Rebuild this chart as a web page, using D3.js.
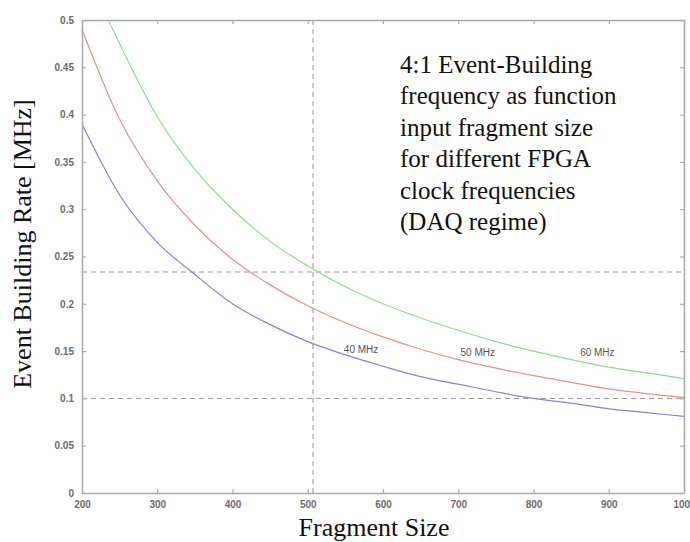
<!DOCTYPE html>
<html>
<head>
<meta charset="utf-8">
<script src="https://cdn.jsdelivr.net/npm/d3@7"></script>
<style>
html,body{margin:0;padding:0;background:#fff;}
svg{display:block;}
</style>
</head>
<body>
<svg id="chart" width="690" height="542"></svg>
<script>
// ---- data ----
const xTicks = [200, 300, 400, 500, 600, 700, 800, 900, 1000];
const yTicks = [0, 0.05, 0.1, 0.15, 0.2, 0.25, 0.3, 0.35, 0.4, 0.45, 0.5];
const yTickLabels = ["0", "0.05", "0.1", "0.15", "0.2", "0.25", "0.3", "0.35", "0.4", "0.45", "0.5"];

const sizes40 = [200, 250, 300, 350, 400, 450, 500, 550, 600, 650, 700, 750, 800, 850, 900, 950, 1000];
const rate40  = [0.39, 0.315, 0.265, 0.231, 0.2, 0.178, 0.16, 0.146, 0.134, 0.123, 0.115, 0.107, 0.1, 0.095, 0.089, 0.085, 0.081];

const sizes50 = [200, 250, 300, 350, 400, 450, 500, 550, 600, 650, 700, 750, 800, 850, 900, 950, 1000];
const rate50  = [0.49, 0.395, 0.33, 0.283, 0.247, 0.22, 0.198, 0.18, 0.165, 0.152, 0.141, 0.132, 0.124, 0.117, 0.11, 0.105, 0.101];

const sizes60 = [235, 250, 300, 350, 400, 450, 500, 550, 600, 650, 700, 750, 800, 850, 900, 950, 1000];
const rate60  = [0.5, 0.475, 0.398, 0.342, 0.3, 0.266, 0.24, 0.218, 0.2, 0.185, 0.172, 0.16, 0.15, 0.141, 0.133, 0.127, 0.121];

const seriesNames = ["40 MHz", "50 MHz", "60 MHz"];
const seriesColors = ["#8282da", "#ea8c8c", "#88de8c"];
const labelPos = [[548, 0.148], [703, 0.145], [862, 0.145]];

const refRate = [0.1, 0.2336];
const refSize = [507];

const titleLines = ["4:1 Event-Building", "frequency as function", "input fragment size", "for different FPGA", "clock frequencies", "(DAQ regime)"];
const xTitle = "Fragment Size";
const yTitle = "Event Building Rate [MHz]";

// ---- drawing ----
const svg = d3.select("#chart");
const L = 82, R = 684, T = 20, B = 493;
const x = d3.scaleLinear().domain([200, 1000]).range([L, R]);
const y = d3.scaleLinear().domain([0, 0.5]).range([B, T]);

svg.append("rect").attr("width", 690).attr("height", 542).attr("fill", "#fff");

// reference dashed lines
const dashColor = "#909090";
refRate.forEach(v => {
  svg.append("line").attr("x1", L).attr("x2", R).attr("y1", y(v)).attr("y2", y(v))
    .attr("stroke", dashColor).attr("stroke-width", 1).attr("stroke-dasharray", "5,4");
});
refSize.forEach(v => {
  svg.append("line").attr("x1", x(v)).attr("x2", x(v)).attr("y1", T).attr("y2", B)
    .attr("stroke", dashColor).attr("stroke-width", 1).attr("stroke-dasharray", "5,4");
});

// curves
const line = d3.line().x(d => x(d[0])).y(d => y(d[1])).curve(d3.curveMonotoneX);
const series = [
  d3.zip(sizes40, rate40),
  d3.zip(sizes50, rate50),
  d3.zip(sizes60, rate60)
];
series.forEach((s, i) => {
  svg.append("path").datum(s).attr("d", line)
    .attr("fill", "none").attr("stroke", seriesColors[i]).attr("stroke-width", 1.2);
});

// axes (box with inward ticks on all sides)
const axisColor = "#a8a8a8";
const tickFont = "Liberation Sans, Arial, sans-serif";
const gB = svg.append("g").attr("transform", `translate(0,${B})`)
  .call(d3.axisBottom(x).tickValues(xTicks).tickSize(-4).tickPadding(8).tickSizeOuter(0).tickFormat(d3.format("d")));
const gT = svg.append("g").attr("transform", `translate(0,${T})`)
  .call(d3.axisTop(x).tickValues(xTicks).tickSize(-4).tickSizeOuter(0).tickFormat(""));
const gL = svg.append("g").attr("transform", `translate(${L},0)`)
  .call(d3.axisLeft(y).tickValues(yTicks).tickSize(-4).tickPadding(8).tickSizeOuter(0)
    .tickFormat((d, i) => yTickLabels[i]));
const gR = svg.append("g").attr("transform", `translate(${R},0)`)
  .call(d3.axisRight(y).tickValues(yTicks).tickSize(-4).tickSizeOuter(0).tickFormat(""));
[gB, gT, gL, gR].forEach(g => {
  g.select(".domain").attr("stroke", axisColor).attr("stroke-width", 1.5);
  g.selectAll(".tick line").attr("stroke", axisColor).attr("stroke-width", 1.2);
  g.selectAll(".tick text").attr("fill", "#6a6a6a").attr("font-family", tickFont)
    .attr("font-size", 10).attr("font-weight", "bold");
});

// series labels
series.forEach((s, i) => {
  svg.append("text").attr("x", x(labelPos[i][0])).attr("y", y(labelPos[i][1]))
    .attr("font-family", tickFont).attr("font-size", 10).attr("fill", "#555")
    .text(seriesNames[i]);
});

// annotation text
const serif = "Liberation Serif, Times New Roman, serif";
const tb = svg.append("text").attr("font-family", serif).attr("font-size", 25).attr("fill", "#111");
titleLines.forEach((t, i) => {
  tb.append("tspan").attr("x", 400).attr("y", 73 + i * 31.4).text(t);
});

// axis titles
svg.append("text").attr("x", 374).attr("y", 536).attr("text-anchor", "middle")
  .attr("font-family", serif).attr("font-size", 26).attr("fill", "#111").text(xTitle);
svg.append("text").attr("transform", "translate(31,244) rotate(-90)").attr("text-anchor", "middle")
  .attr("font-family", serif).attr("font-size", 26).attr("fill", "#111").text(yTitle);
</script>
</body>
</html>
